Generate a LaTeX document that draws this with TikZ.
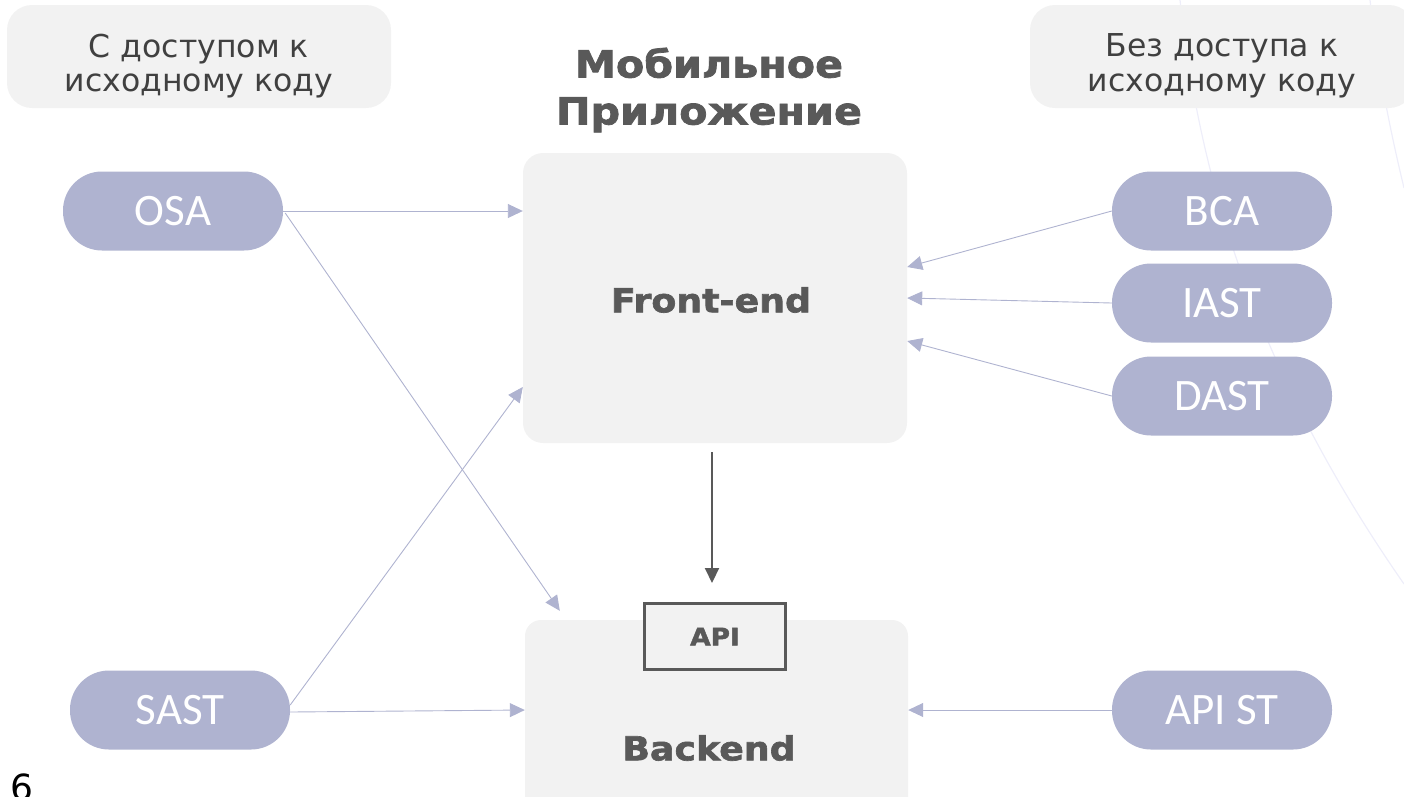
\documentclass[tikz,border=0pt]{standalone}
\usepackage{fontspec}
\setmainfont{DejaVu Sans}
\newfontfamily\labelfont{DejaVu Sans}
\newfontfamily\heavyfont{DejaVu Sans}[BoldFeatures={FakeBold=2, FakeStretch=1.1}]
\newfontfamily\pillfont{Carlito}
\usetikzlibrary{arrows.meta}
\definecolor{lav}{HTML}{AFB3D0}
\definecolor{boxgray}{HTML}{F2F2F2}
\definecolor{titlegray}{HTML}{595959}
\definecolor{labgray}{HTML}{404040}
\definecolor{faint}{HTML}{EEEEFA}
\begin{document}
\begin{tikzpicture}[x=1pt,y=-1pt,
  catbox/.style={fill=boxgray, rounded corners=25pt, minimum width=384pt, minimum height=103pt, inner sep=0pt},
  cattext/.style={text=labgray, align=center, font=\labelfont\fontsize{31.5}{34.5}\selectfont, inner sep=0pt},
  pill/.style={fill=lav, rounded corners=39pt, minimum width=220pt, minimum height=79pt,
    text=white, font=\pillfont\fontsize{45}{50}\selectfont, inner sep=0pt},
  bigbox/.style={fill=boxgray, rounded corners=20pt, inner sep=0pt},
  heavy/.style={text=titlegray, font=\heavyfont\bfseries\fontsize{33}{40}\selectfont, inner sep=0pt},
  conn/.style={draw=lav, line width=0.9pt, -{Triangle[length=15pt,width=14pt]}},
  darkconn/.style={draw=titlegray, line width=2pt, -{Triangle[length=15pt,width=14pt]}}
]
\useasboundingbox (0,0) rectangle (1404,796);
\clip (0,0) rectangle (1404,796);
% faint background curves
\draw[faint, line width=1.2pt] (1180,0) .. controls (1200,180) and (1255,370) .. (1404,584);
\draw[faint, line width=1.2pt] (1370,0) .. controls (1378,70) and (1390,130) .. (1404,188);

% category labels
\node[catbox] (lefttag) at (199,56.5) {};
\node[cattext] (lefttxt) at (199,66) {С доступом к\\исходному коду};
\node[catbox] (righttag) at (1222,56.5) {};
\node[cattext] (righttxt) at (1222,66) {Без доступа к\\исходному коду};

% title
\node[heavy, align=center, font=\heavyfont\bfseries\fontsize{37.5}{47}\selectfont] (title) at (709,90) {Мобильное\\Приложение};

% main boxes
\node[bigbox, minimum width=384pt, minimum height=290pt] (fe) at (715,298) {};
\node[heavy] (fetext) at (711,300) {Front-end};
\node[bigbox, rounded corners=16pt, minimum width=383pt, minimum height=200pt] (be) at (716.5,720) {};
\node[heavy] (betext) at (709,748) {Backend};
\node[draw=titlegray, line width=3pt, fill=boxgray, minimum width=141pt, minimum height=66pt,
  text=titlegray, font=\heavyfont\bfseries\fontsize{24}{30}\selectfont, inner sep=0pt] (api) at (715,636.5) {API};

% pills
\node[pill] (osa) at (173,211) {OSA};
\node[pill] (sast) at (180,710) {SAST};
\node[pill] (bca) at (1222,211) {BCA};
\node[pill] (iast) at (1222,303) {IAST};
\node[pill] (dast) at (1222,396) {DAST};
\node[pill] (apist) at (1222,710) {API ST};

% connectors
\draw[conn] (osa.east) -- (fe.west |- osa.east);
\draw[conn] ([xshift=2pt,yshift=-2pt]osa.east) -- ([xshift=35pt,yshift=9pt]be.north west);
\draw[conn] ([yshift=5pt]sast.east) -- ([yshift=-89pt]fe.west);
\draw[conn] ([yshift=-2pt]sast.east) -- (be.west |- sast.east);
\draw[conn] (bca.west) -- ([yshift=31pt]fe.east);
\draw[conn] (iast.west) -- (fe.east);
\draw[conn] (dast.west) -- ([yshift=-43pt]fe.east);
\draw[conn] (apist.west) -- (be.east |- apist.west);
\draw[darkconn] ([xshift=-3pt,yshift=-9pt]fe.south) -- ([xshift=-3pt,yshift=19pt]api.north);

% page number
\node[anchor=base west, inner sep=0pt, font=\labelfont\fontsize{36}{40}\selectfont, text=black] (pnum) at (10,800) {6};
\end{tikzpicture}
\end{document}
